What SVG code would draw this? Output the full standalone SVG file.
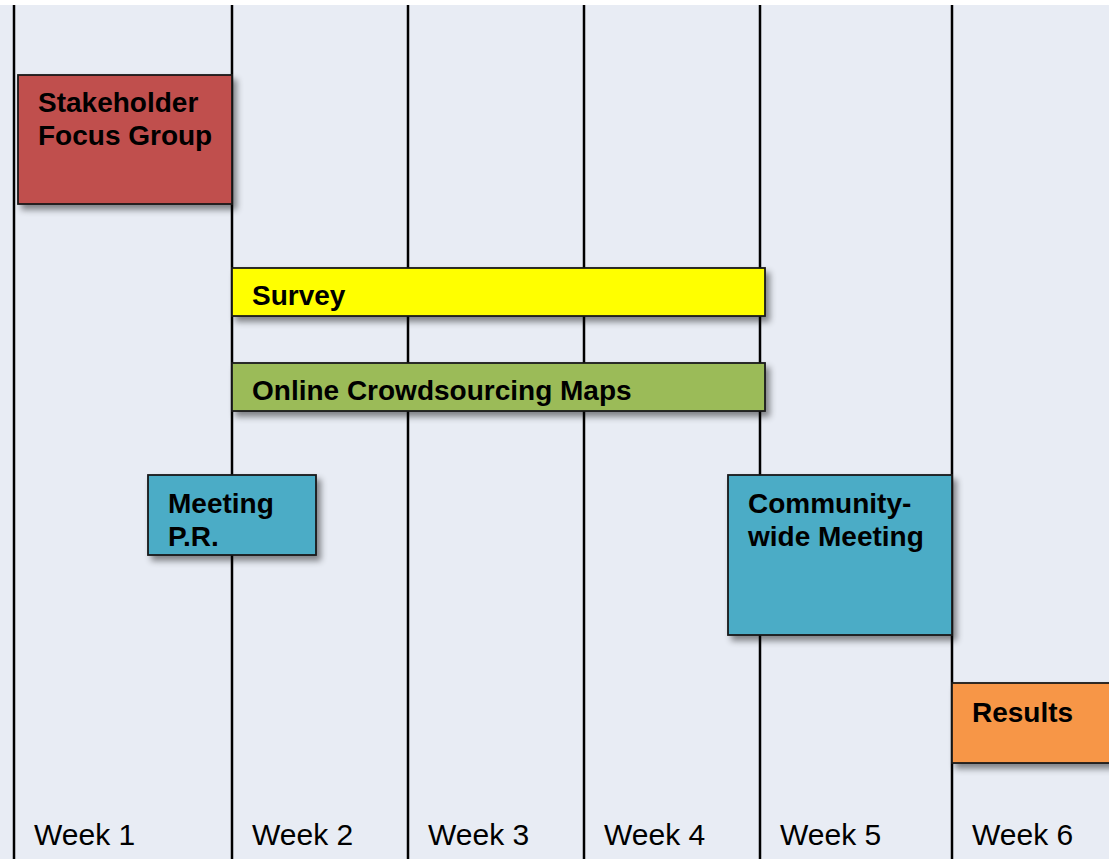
<svg xmlns="http://www.w3.org/2000/svg" width="1109" height="859" viewBox="0 0 1109 859">
<style>
.box{stroke:#1a1a1a;stroke-width:1.8;filter:url(#sh)}
.lbl{font-family:"Liberation Sans",Arial,sans-serif;font-weight:bold;font-size:28px;fill:#000}
.wk{font-family:"Liberation Sans",Arial,sans-serif;font-size:30px;fill:#000}
.vl{stroke:#000;stroke-width:2.5}
</style>
<defs>
<filter id="sh" x="-10%" y="-10%" width="130%" height="140%">
<feDropShadow dx="4" dy="5" stdDeviation="3" flood-color="#000" flood-opacity="0.45"/>
</filter>
</defs>
<rect x="0" y="0" width="1109" height="859" fill="#ffffff"/>
<rect x="0" y="5" width="1109" height="854" fill="#E8ECF4"/>
<g id="gridlines">
<line class="vl" x1="14" y1="5" x2="14" y2="859"/>
<line class="vl" x1="232" y1="5" x2="232" y2="859"/>
<line class="vl" x1="408" y1="5" x2="408" y2="859"/>
<line class="vl" x1="584" y1="5" x2="584" y2="859"/>
<line class="vl" x1="760" y1="5" x2="760" y2="859"/>
<line class="vl" x1="952" y1="5" x2="952" y2="859"/>
</g>
<g id="stakeholder">
<rect class="box" x="18" y="75" width="214" height="129" fill="#C0504D"/>
<text class="lbl" x="38" y="112">Stakeholder</text>
<text class="lbl" x="38" y="145">Focus Group</text>
</g>
<g id="survey">
<rect class="box" x="232" y="268" width="533" height="48" fill="#FFFF00"/>
<text class="lbl" x="252" y="305">Survey</text>
</g>
<g id="online">
<rect class="box" x="232" y="363" width="533" height="48" fill="#9BBB59"/>
<text class="lbl" x="252" y="400">Online Crowdsourcing Maps</text>
</g>
<g id="meeting-pr">
<rect class="box" x="148" y="475" width="168" height="80" fill="#4BACC6"/>
<text class="lbl" x="168" y="513">Meeting</text>
<text class="lbl" x="168" y="546">P.R.</text>
</g>
<g id="community">
<rect class="box" x="728" y="475" width="224" height="160" fill="#4BACC6"/>
<text class="lbl" x="748" y="513">Community-</text>
<text class="lbl" x="748" y="546">wide Meeting</text>
</g>
<g id="results">
<rect class="box" x="952" y="683" width="162" height="80" fill="#F79646"/>
<text class="lbl" x="972" y="722">Results</text>
</g>
<g id="weeks">
<text class="wk" x="34" y="845">Week 1</text>
<text class="wk" x="252" y="845">Week 2</text>
<text class="wk" x="428" y="845">Week 3</text>
<text class="wk" x="604" y="845">Week 4</text>
<text class="wk" x="780" y="845">Week 5</text>
<text class="wk" x="972" y="845">Week 6</text>
</g>
</svg>
